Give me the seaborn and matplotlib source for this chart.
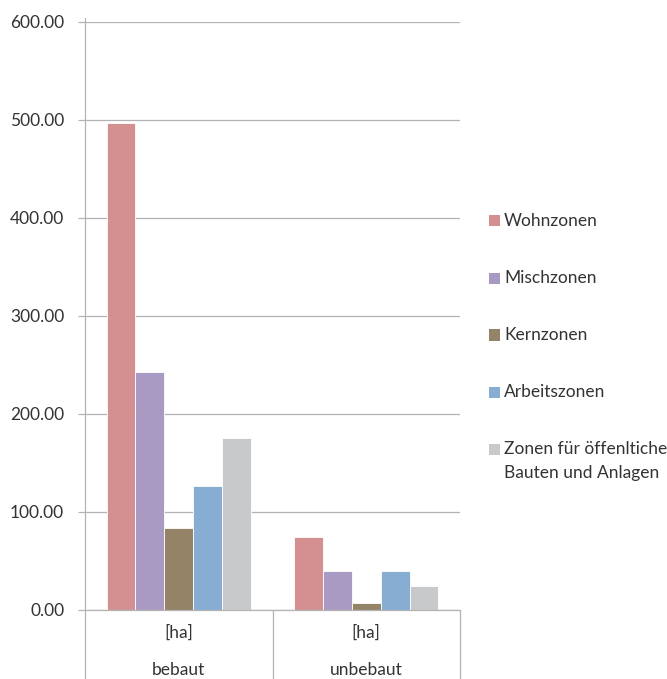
import matplotlib
matplotlib.use("Agg")
import matplotlib.pyplot as plt
import matplotlib.transforms as mtransforms
from matplotlib.patches import Rectangle
from matplotlib.lines import Line2D
import seaborn as sns
import pandas as pd

# ---- data ----
groups = ["bebaut", "unbebaut"]
unit_label = "[ha]"
zones = ["Wohnzonen", "Mischzonen", "Kernzonen", "Arbeitszonen",
         "Zonen für öffenltiche\nBauten und Anlagen"]
bebaut = [497, 243, 84, 127, 176]
unbebaut = [75, 39.5, 7, 39.5, 24]
colors = ["#D49090", "#A99AC3", "#948366", "#88ADD3", "#C8C9CA"]
yticks = [0, 100, 200, 300, 400, 500, 600]

rows = []
for z, b, u in zip(zones, bebaut, unbebaut):
    rows.append({"Gruppe": groups[0], "Zone": z, "Wert": b})
    rows.append({"Gruppe": groups[1], "Zone": z, "Wert": u})
df = pd.DataFrame(rows)

sns.set_theme(style="white")
plt.rcParams["font.family"] = ["Lato", "DejaVu Sans"]
FS = 12.5
TXT = "#333333"
GRID = "#B3B3B3"

W, H = 667, 679
fig = plt.figure(figsize=(W / 100, H / 100), dpi=100)
ax = fig.add_axes([85 / W, 1 - 610 / H, (460 - 85) / W, (610 - 22) / H])

sns.barplot(data=df, x="Gruppe", y="Wert", hue="Zone", order=groups,
            hue_order=zones, palette=colors, width=0.77, gap=0,
            edgecolor="white", linewidth=0.6, saturation=1, ax=ax,
            legend=False, errorbar=None)

ax.set_xlim(-0.5, 1.5)
ax.set_ylim(0, 600)
ax.set_yticks(yticks)
ax.set_yticklabels([f"{v:.2f}" for v in yticks], color=TXT, fontsize=FS)
ax.tick_params(axis="y", length=5, width=0.9, color=GRID, pad=10, left=True)
ax.set_xticks([])
ax.set_xlabel("")
ax.set_ylabel("")
ax.yaxis.grid(True, color=GRID, linewidth=0.9)
ax.set_axisbelow(True)
for s in ["top", "right"]:
    ax.spines[s].set_visible(False)
ax.spines["bottom"].set_color(GRID)
ax.spines["bottom"].set_linewidth(0.9)
ax.spines["left"].set_visible(False)

# left axis line extending below into the category area
ax.add_line(Line2D([0, 0], [-(679 - 610) / 588, 1 + 4 / 588],
                   transform=ax.transAxes, color=GRID, lw=0.9, clip_on=False))

# category separators and labels
trans = mtransforms.blended_transform_factory(ax.transData, ax.transAxes)
for xs in [0.5, 1.5]:
    ax.add_line(Line2D([xs, xs], [0, -(679 - 610) / 588], transform=trans,
                       color=GRID, lw=0.9, clip_on=False))
for i, g in enumerate(groups):
    ax.text(i, -(633 - 610) / 588, unit_label, transform=trans, ha="center",
            va="center", fontsize=FS, color=TXT)
    ax.text(i, -(670 - 610) / 588, g, transform=trans, ha="center",
            va="center", fontsize=FS, color=TXT)

# legend
ys = [221, 278, 335, 392, 449]
for z, c, y in zip(zones, colors, ys):
    fig.patches.append(Rectangle((489 / W, 1 - (y + 5.5) / H), 11 / W, 11 / H,
                                 transform=fig.transFigure, facecolor=c,
                                 edgecolor="none"))
    for k, line in enumerate(z.split("\n")):
        fig.text(504 / W, 1 - (y + 24 * k) / H, line, ha="left", va="center",
                 fontsize=FS, color=TXT)

fig.savefig("out.png", dpi=100)
